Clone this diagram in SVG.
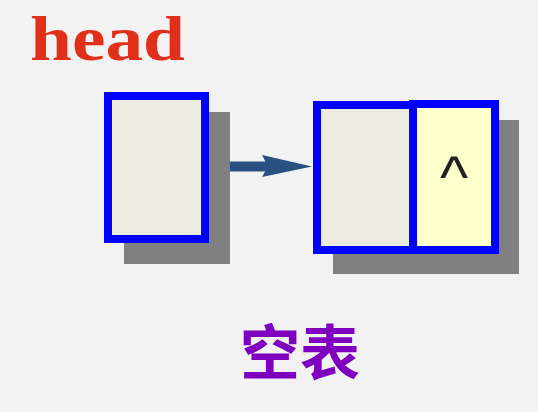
<svg xmlns="http://www.w3.org/2000/svg" width="538" height="412" viewBox="0 0 538 412">
<style>
.shadow{fill:#808080}
.box{stroke:#0000ff;stroke-width:8}
.data{fill:#ecebe2}
.ptr{fill:#ffffcc}
</style>
<rect width="538" height="412" fill="#f2f2f2"/>
<text x="30" y="60" font-family="Liberation Serif, serif" font-weight="bold" font-size="64" fill="#e0301a" textLength="155" lengthAdjust="spacingAndGlyphs">head</text>
<g id="head">
<rect class="shadow" x="124" y="112" width="106" height="152"/>
<rect class="box data" x="108" y="96" width="97" height="143"/>
</g>
<g id="node">
<rect class="shadow" x="333" y="120" width="186" height="154"/>
<rect class="box data" x="317" y="105" width="96" height="145"/>
<rect class="box ptr" x="413" y="104" width="82" height="146"/>
<text x="454" y="198" font-family="Liberation Sans, sans-serif" font-size="60" fill="#222" text-anchor="middle">^</text>
</g>
<g id="connectors">
<line x1="230" y1="166.5" x2="268" y2="166.5" stroke="#285080" stroke-width="10"/>
<polygon points="262,155 312,166.5 262,177 268,166.5" fill="#285080"/>
</g>
<text x="300" y="375" font-family="Noto Sans CJK SC, sans-serif" font-weight="bold" font-size="60" fill="#8000c0" text-anchor="middle">空表</text>
</svg>
